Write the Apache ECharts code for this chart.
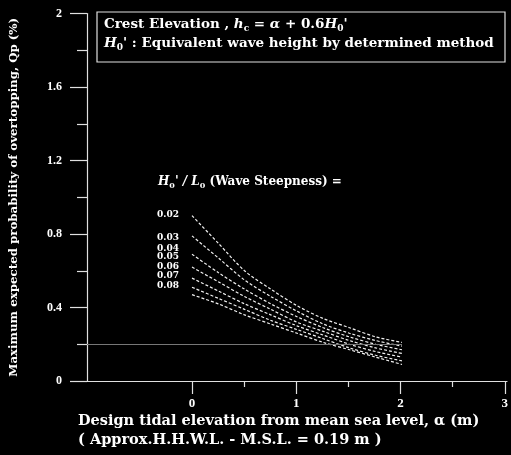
<!DOCTYPE html>
<html>
<head>
<meta charset="utf-8">
<script src="https://cdn.jsdelivr.net/npm/echarts@6/dist/echarts.min.js"></script>
<style>html,body{margin:0;padding:0;background:#000}#c{width:511px;height:455px}</style>
</head>
<body>
<div id="c"></div>
<script>
// ---- data ----
const xValues = [0, 0.25, 0.5, 0.75, 1, 1.25, 1.5, 1.75, 2];
const steepness = ['0.02', '0.03', '0.04', '0.05', '0.06', '0.07', '0.08'];
const s002 = [0.90, 0.75, 0.60, 0.50, 0.41, 0.34, 0.29, 0.24, 0.21];
const s003 = [0.79, 0.67, 0.55, 0.46, 0.38, 0.31, 0.26, 0.22, 0.19];
const s004 = [0.69, 0.59, 0.50, 0.42, 0.35, 0.29, 0.24, 0.20, 0.17];
const s005 = [0.62, 0.54, 0.46, 0.39, 0.32, 0.27, 0.22, 0.18, 0.15];
const s006 = [0.56, 0.49, 0.42, 0.36, 0.30, 0.25, 0.20, 0.16, 0.13];
const s007 = [0.51, 0.45, 0.39, 0.33, 0.28, 0.23, 0.18, 0.14, 0.11];
const s008 = [0.47, 0.42, 0.36, 0.31, 0.26, 0.21, 0.17, 0.13, 0.09];
const seriesValues = [s002, s003, s004, s005, s006, s007, s008];
const xTickLabels = [0, 1, 2, 3];
const yTickLabels = [0, 0.4, 0.8, 1.2, 1.6, 2];
const refLevel = 0.2;
const refStartX = -1, refEndX = 2;

// ---- styles / layout ----
const SERIF = '"Liberation Serif", serif';
const WIDE = '"DejaVu Serif", serif';
const AX = '#e0e0e0';
const GRID = {left: 87, top: 13.5, right: 4, bottom: 74};
const X_MIN = -1, X_MAX = 3;
const labelOffsets = [[0, -1], [0, 2], [0, -6], [0, -10], [0, -11], [0, -12], [0, -9]];

const chart = echarts.init(document.getElementById('c'), null, {renderer: 'canvas'});
const plotWidth = 511 - GRID.left - GRID.right;
const grid2Left = GRID.left + plotWidth * (xTickLabels[0] - X_MIN) / (X_MAX - X_MIN);

const series = seriesValues.map((vals, i) => ({
  type: 'line',
  name: steepness[i],
  data: vals.map((v, j) => [xValues[j], v]),
  smooth: 0.3,
  symbol: 'none',
  xAxisIndex: 0, yAxisIndex: 0,
  lineStyle: {color: '#f2f2f2', width: 1.2, type: [3, 2]},
  markPoint: {
    symbol: 'circle', symbolSize: 0,
    data: [{coord: [xValues[0], vals[0]], value: steepness[i]}],
    label: {
      show: true, position: 'left', distance: 13, offset: labelOffsets[i],
      formatter: steepness[i], color: '#fff', fontFamily: WIDE,
      fontWeight: 'bold', fontSize: 9
    }
  },
  silent: true,
  z: 3
}));

series.push({
  type: 'line',
  data: [],
  xAxisIndex: 0, yAxisIndex: 0,
  markLine: {
    symbol: 'none', silent: true, label: {show: false},
    lineStyle: {color: '#777', width: 1, type: 'solid'},
    data: [[{coord: [refStartX, refLevel]}, {coord: [refEndX, refLevel]}]]
  }
});

const subRich = (size, lh, pad) => ({
  n: {fill: '#fff', font: 'bold ' + size + 'px ' + WIDE, lineHeight: lh},
  i: {fill: '#fff', font: 'italic bold ' + size + 'px ' + WIDE, lineHeight: lh},
  s: {fill: '#fff', font: 'bold ' + Math.round(size * 0.65) + 'px ' + WIDE, lineHeight: lh, verticalAlign: 'bottom', padding: [pad, 0, 0, 0]}
});

const option = {
  backgroundColor: '#000',
  animation: false,
  grid: [
    {left: GRID.left, top: GRID.top, right: GRID.right, bottom: GRID.bottom},
    {left: grid2Left, top: GRID.top, right: GRID.right, bottom: GRID.bottom}
  ],
  xAxis: [{
    gridIndex: 0, type: 'value', min: X_MIN, max: X_MAX, interval: 1,
    axisLine: {show: true, onZero: false, lineStyle: {color: AX, width: 1.2}},
    axisTick: {show: false},
    axisLabel: {show: false},
    splitLine: {show: false}
  }, {
    gridIndex: 1, type: 'value', min: xTickLabels[0], max: xTickLabels[xTickLabels.length - 1], interval: 1,
    axisLine: {show: false, onZero: false},
    axisTick: {show: true, length: 13, lineStyle: {color: AX, width: 1.2}},
    minorTick: {show: true, splitNumber: 2, length: 6, lineStyle: {color: AX, width: 1.2}},
    axisLabel: {show: true, margin: 16, color: '#fff', fontFamily: SERIF, fontWeight: 'bold', fontSize: 13},
    splitLine: {show: false}
  }],
  yAxis: [{
    gridIndex: 0, type: 'value', min: yTickLabels[0], max: yTickLabels[yTickLabels.length - 1], interval: 0.4,
    axisLine: {show: true, onZero: false, lineStyle: {color: AX, width: 1.2}},
    axisTick: {show: true, length: 17, lineStyle: {color: AX, width: 1.2}},
    minorTick: {show: true, splitNumber: 2, length: 10, lineStyle: {color: AX, width: 1.2}},
    axisLabel: {margin: 25, color: '#fff', fontFamily: SERIF, fontWeight: 'bold', fontSize: 12,
      formatter: v => (Math.abs(v) < 1e-9 ? '0' : String(+v.toFixed(1)))},
    splitLine: {show: false},
    name: 'Maximum expected probability of overtopping, Qp (%)',
    nameLocation: 'middle', nameRotate: 90, nameGap: 67,
    nameTextStyle: {color: '#fff', fontFamily: WIDE, fontWeight: 'bold', fontSize: 11.8}
  }, {
    gridIndex: 1, type: 'value', min: 0, max: 2, show: false
  }],
  graphic: [
    {type: 'rect', shape: {x: 97, y: 12, width: 408, height: 50},
     style: {fill: null, stroke: AX, lineWidth: 1.2}, z: 10},
    {type: 'text', x: 104, y: 15, z: 10, style: {
      text: '{n|Crest Elevation , }{i|h}{s|c}{n| = }{i|α}{n| + 0.6}{i|H}{s|0}{n|\'}',
      rich: subRich(13.5, 18, 6)}},
    {type: 'text', x: 104, y: 34, z: 10, style: {
      text: '{i|H}{s|0}{n|\' : Equivalent wave height by determined method}',
      rich: subRich(13.5, 18, 6)}},
    {type: 'text', x: 158, y: 174, z: 10, style: {
      text: '{i|H}{s|0}{i|\' / L}{s|0}{n| (Wave Steepness) =}',
      rich: subRich(12, 16, 5)}},
    {type: 'text', x: 78, y: 412, z: 10, style: {
      text: 'Design tidal elevation from mean sea level, α (m)\n( Approx.H.H.W.L. - M.S.L. = 0.19 m )',
      fill: '#fff', font: 'bold 14.5px ' + WIDE, lineHeight: 19}}
  ],
  series: series
};
chart.setOption(option);
</script>
</body>
</html>
